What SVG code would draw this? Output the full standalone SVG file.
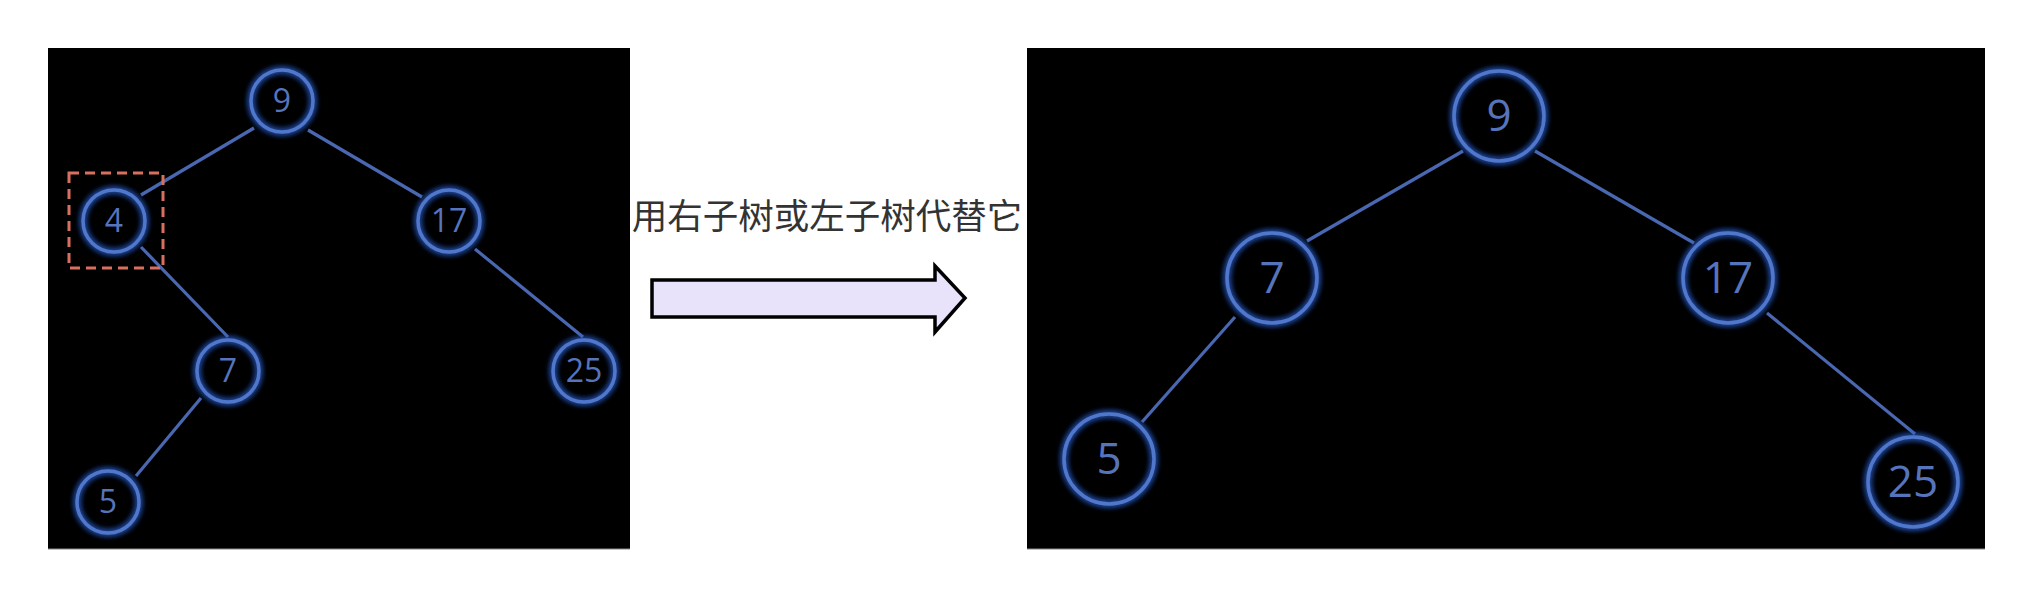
<svg xmlns="http://www.w3.org/2000/svg" width="2036" height="600" viewBox="0 0 2036 600">
<style>
.panel{fill:#000;}
.node circle{fill:none;stroke:#5078CC;stroke-width:3.5;filter:url(#glow);}
.edge{stroke:#4A68B2;stroke-width:3.2;fill:none;}
.lbl{fill:#5674BC;font-family:"Open Sans","Liberation Sans",sans-serif;text-anchor:middle;}
.s{font-size:32px;}
.b{font-size:44px;}
</style>
<defs>
<filter id="glow" x="-30%" y="-30%" width="160%" height="160%">
<feGaussianBlur in="SourceAlpha" stdDeviation="3" result="bl"/>
<feFlood flood-color="#2F5FD0" result="fl"/>
<feComposite in="fl" in2="bl" operator="in" result="gl"/>
<feMerge><feMergeNode in="gl"/><feMergeNode in="gl"/><feMergeNode in="SourceGraphic"/></feMerge>
</filter>
</defs>
<rect width="2036" height="600" fill="#fff"/>
<rect class="panel" x="48" y="48" width="582" height="501"/>
<rect class="panel" x="1027" y="48" width="958" height="501"/>
<line x1="48" y1="549" x2="630" y2="549" stroke="#888" stroke-width="1"/>
<line x1="1027" y1="549" x2="1985" y2="549" stroke="#888" stroke-width="1"/>

<g id="connectors">
<line class="edge" x1="254" y1="128" x2="141" y2="195"/>
<line class="edge" x1="308" y1="130" x2="422" y2="197"/>
<line class="edge" x1="141" y1="247" x2="228" y2="337"/>
<line class="edge" x1="475" y1="249" x2="583" y2="337"/>
<line class="edge" x1="201" y1="398" x2="136" y2="476"/>
<line class="edge" x1="1463" y1="151" x2="1307" y2="241" stroke-width="3.8"/>
<line class="edge" x1="1535" y1="151" x2="1694" y2="243" stroke-width="3.8"/>
<line class="edge" x1="1235" y1="317" x2="1142" y2="422" stroke-width="3.8"/>
<line class="edge" x1="1767" y1="313" x2="1915" y2="434" stroke-width="3.8"/>
</g>

<g id="L9" class="node"><circle cx="282" cy="101" r="31"/><text class="lbl s" x="282" y="112">9</text></g>
<g id="L4" class="node"><circle cx="114" cy="221" r="31"/><text class="lbl s" x="114" y="232">4</text></g>
<g id="L17" class="node"><circle cx="449" cy="221" r="31"/><text class="lbl s" x="449" y="232">17</text></g>
<g id="L7" class="node"><circle cx="228" cy="371" r="31"/><text class="lbl s" x="228" y="382">7</text></g>
<g id="L25" class="node"><circle cx="584" cy="371" r="31"/><text class="lbl s" x="584" y="382">25</text></g>
<g id="L5" class="node"><circle cx="108" cy="502" r="31"/><text class="lbl s" x="108" y="513">5</text></g>
<rect id="highlight" x="69" y="173" width="94" height="95" fill="none" stroke="#D8705F" stroke-width="3" stroke-dasharray="10 6"/>

<g id="caption"><text x="827" y="229" font-family="'Noto Sans CJK SC',sans-serif" font-size="35.5" fill="#333" text-anchor="middle">用右子树或左子树代替它</text></g>
<g id="arrow"><polygon points="652,280 935,280 935,266 965,298 935,332 935,317 652,317" fill="#E8E2FB" stroke="#000" stroke-width="3.5" stroke-linejoin="miter"/></g>

<g id="R9" class="node"><circle cx="1499" cy="116" r="45"/><text class="lbl b" x="1499" y="131">9</text></g>
<g id="R7" class="node"><circle cx="1272" cy="278" r="45"/><text class="lbl b" x="1272" y="293">7</text></g>
<g id="R17" class="node"><circle cx="1728" cy="278" r="45"/><text class="lbl b" x="1728" y="293">17</text></g>
<g id="R5" class="node"><circle cx="1109" cy="459" r="45"/><text class="lbl b" x="1109" y="474">5</text></g>
<g id="R25" class="node"><circle cx="1913" cy="482" r="45"/><text class="lbl b" x="1913" y="497">25</text></g>
</svg>
